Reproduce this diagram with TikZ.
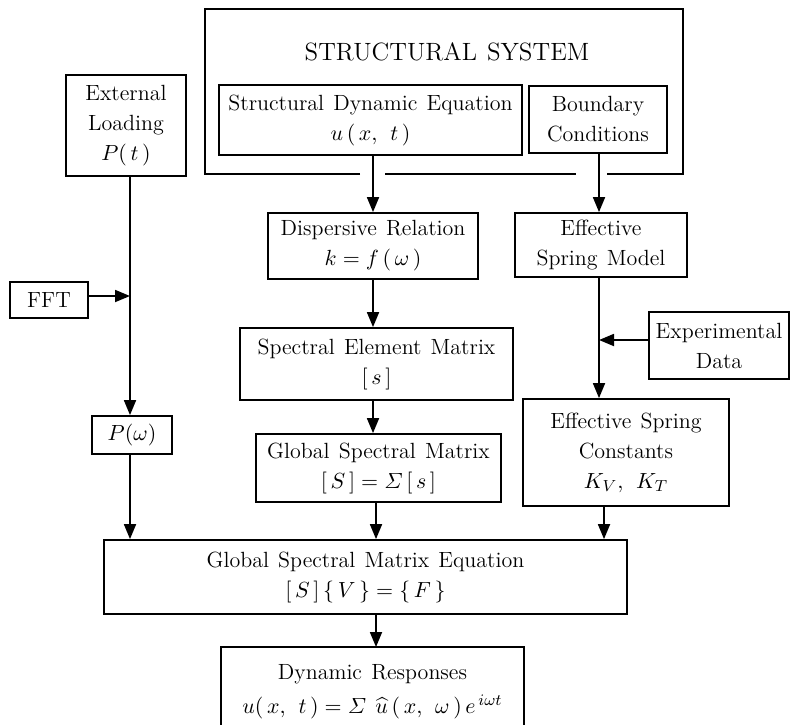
\documentclass[tikz,border=0pt]{standalone}
\usepackage{amsmath}
\usetikzlibrary{arrows.meta}
\newcommand\boxfont{\fontsize{11}{15}\selectfont\spaceskip=4.6pt plus 1pt minus 1pt\relax}
\newcommand\titlefont{\fontsize{12.5}{15}\selectfont\spaceskip=5pt plus 1pt minus 1pt\relax}
\begin{document}
\begin{tikzpicture}[x=0.5pt,y=-0.5pt,
  box/.style={draw, line width=0.9pt, inner sep=0pt, align=center, font=\boxfont},
  txt/.style={inner sep=0pt, align=center, font=\boxfont},
  arr/.style={line width=0.9pt, -{Triangle[length=7.5pt,width=6pt]}},
  ln/.style={line width=0.9pt}]
\useasboundingbox (0,0) rectangle (790,724);

% column coordinates
\coordinate (cL) at (130,0);
\coordinate (cM) at (373,0);
\coordinate (cG) at (376,0);
\coordinate (cR) at (599,0);
\coordinate (cK) at (604,0);
\coordinate (jF) at (130,296);
\coordinate (jE) at (599,340);

% structural system frame (open at the bottom around the arrows)
\draw[ln] (360,174) -- (205,174) -- (205,9) -- (683,9) -- (683,174) -- (607,174);
\draw[ln] (385,174) -- (576,174);
\node[font=\titlefont] (title) at (447,52) {STRUCTURAL SYSTEM};

% boxes
\node[box, minimum width=151.5pt, minimum height=35pt] (sde) at (370.5,120)
  {Structural Dynamic Equation\\ $u\,(\,x,\ t\,)$};
\node[box, minimum width=69pt, minimum height=33.5pt] (bc) at (598,119.5)
  {Boundary\\ Conditions};
\node[box, minimum width=60pt, minimum height=50.5pt] (ext) at (126,125.5)
  {External\\ Loading\\ $P(\,t\,)$};
\node[box, minimum width=39pt, minimum height=18pt] (fft) at (49,300) {FFT};
\node[box, minimum width=40pt, minimum height=19pt] (pw) at (132,435) {$P(\omega)$};
\node[box, minimum width=105pt, minimum height=33pt] (dr) at (373,246)
  {Dispersive Relation\\ $k = f\,(\,\omega\,)$};
\node[box, minimum width=86pt, minimum height=32pt] (esm) at (601,245)
  {Effective\\ Spring Model};
\node[box, minimum width=136.5pt, minimum height=36pt] (sem) at (376.5,364)
  {Spectral Element Matrix\\ $[\,s\,]$};
\node[box, minimum width=70pt, minimum height=33.5pt] (exp) at (719,345.5)
  {Experimental\\ Data};
\node[box, minimum width=103pt, minimum height=53.5pt] (esc) at (626,452.5)
  {Effective Spring\\ Constants\\ $K_V,\ K_T$};
\node[box, minimum width=122.5pt, minimum height=34pt] (gsm) at (378.5,468)
  {Global Spectral Matrix\\ $[\,S\,] = \varSigma\,[\,s\,]$};
\node[box, minimum width=261.5pt, minimum height=37pt] (eqn) at (365.5,577)
  {Global Spectral Matrix Equation\\ $[\,S\,]\,\{\,V\,\} = \{\,F\,\}$};

% dynamic responses box (runs past the bottom edge)
\coordinate (dynN) at (376,647);
\draw[ln] (221,760) -- (221,647) -- (524,647) -- (524,760);
\node[txt] (dyn) at (372.5,692)
  {Dynamic Responses\\[2pt] $u(\,x,\ t\,) = \varSigma\ \widehat{u}\,(\,x,\ \omega\,)\,e^{\,i\omega t}$};

% connectors
\draw[arr] (sde.south -| cM) -- (dr.north -| cM);
\draw[arr] (bc.south -| cR) -- (esm.north -| cR);
\draw[arr] (dr.south -| cM) -- (sem.north -| cM);
\draw[arr] (sem.south -| cM) -- (gsm.north -| cM);
\draw[arr] (esm.south -| cR) -- (esc.north -| cR);
\draw[arr] (exp.west |- jE) -- (jE);
\draw[arr] (ext.south -| cL) -- (pw.north -| cL);
\draw[arr] (fft.east |- jF) -- (jF);
\draw[arr] (pw.south -| cL) -- (eqn.north -| cL);
\draw[arr] (gsm.south -| cG) -- (eqn.north -| cG);
\draw[arr] (esc.south -| cK) -- (eqn.north -| cK);
\draw[arr] (eqn.south -| cG) -- (dynN);
\end{tikzpicture}
\end{document}
